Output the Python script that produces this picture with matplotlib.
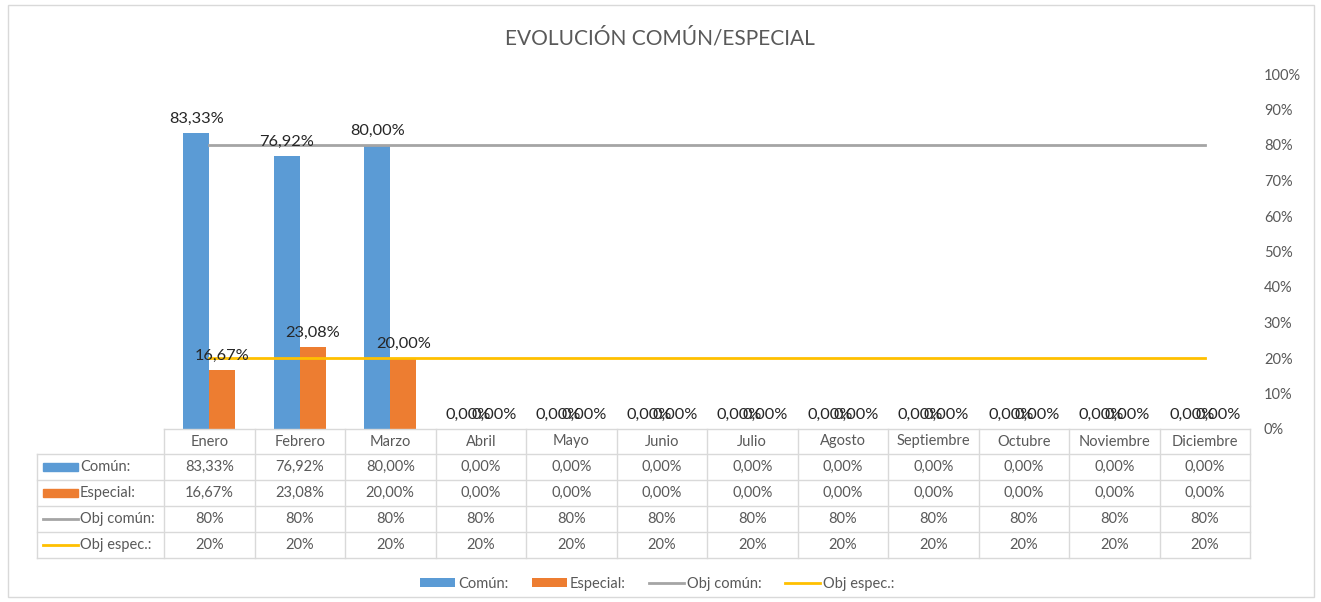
import matplotlib
matplotlib.use("Agg")
import matplotlib.pyplot as plt
import matplotlib.transforms as mtransforms
from matplotlib.patches import Rectangle
from matplotlib.lines import Line2D
import numpy as np

plt.rcParams["font.family"] = ["Lato", "DejaVu Sans"]

# --- data -------------------------------------------------------------
meses = ["Enero", "Febrero", "Marzo", "Abril", "Mayo", "Junio", "Julio",
         "Agosto", "Septiembre", "Octubre", "Noviembre", "Diciembre"]
comun = [0.8333, 0.7692, 0.80, 0, 0, 0, 0, 0, 0, 0, 0, 0]
especial = [0.1667, 0.2308, 0.20, 0, 0, 0, 0, 0, 0, 0, 0, 0]
obj_comun = [0.80] * 12
obj_espec = [0.20] * 12
yticks = [0, 0.1, 0.2, 0.3, 0.4, 0.5, 0.6, 0.7, 0.8, 0.9, 1.0]

BLUE = "#5B9BD5"
ORANGE = "#ED7D31"
GRAY = "#A5A5A5"
YELLOW = "#FFC000"
TXT = "#595959"
GRID = "#D9D9D9"

W, H = 1321, 602
fig = plt.figure(figsize=(W / 100, H / 100), dpi=100)
fig.patch.set_facecolor("white")

# outer frame
fig.add_artist(Rectangle((8 / W, 5 / H), (1314 - 8) / W, (597 - 5) / H,
                         transform=fig.transFigure, fill=False,
                         edgecolor=GRID, lw=1))

ax_l, ax_r, ax_b, ax_t = 164, 1250, 429, 74
ax = fig.add_axes([ax_l / W, 1 - ax_b / H, (ax_r - ax_l) / W, (ax_b - ax_t) / H])
ax_h = ax_b - ax_t

x = np.arange(len(meses))
bw = 0.287
b1 = ax.bar(x - bw / 2, comun, bw, color=BLUE, label="Común:")
b2 = ax.bar(x + bw / 2, especial, bw, color=ORANGE, label="Especial:")
l1, = ax.plot(x, obj_comun, color=GRAY, lw=2, label="Obj común:")
l2, = ax.plot(x, obj_espec, color=YELLOW, lw=2, label="Obj espec.:")

def pct(v):
    return f"{v * 100:.2f}%".replace(".", ",")

for bars, vals in ((b1, comun), (b2, especial)):
    for bar, v in zip(bars, vals):
        ax.annotate(pct(v), (bar.get_x() + bar.get_width() / 2, v),
                    xytext=(0, 5), textcoords="offset points",
                    ha="center", va="bottom", fontsize=11.8, color="#262626")

ax.set_xlim(-0.5, len(meses) - 0.5)
ax.set_ylim(0, 1)
ax.set_yticks(yticks)
ax.set_yticklabels([f"{int(round(t * 100))}%" for t in yticks])
ax.yaxis.tick_right()
ax.tick_params(axis="y", length=0, pad=10, labelsize=10.5, labelcolor=TXT)
ax.set_xticks([])
for s in ax.spines.values():
    s.set_visible(False)

fig.text(660 / W, 1 - 38 / H, "EVOLUCIÓN COMÚN/ESPECIAL", ha="center",
         va="center", fontsize=15, color=TXT)

# --- data table under the axes ---------------------------------------
tr = mtransforms.blended_transform_factory(ax.transData, ax.transAxes)
fig_tr = fig.transFigure

def ya(ypx):
    return (ax_b - ypx) / ax_h

row_edges = [429, 454, 480, 506, 532, 558]
x0, x1 = -0.5, len(meses) - 0.5
# horizontal lines
ax.add_line(Line2D([x0, x1], [ya(row_edges[0])] * 2, transform=tr,
                   color=GRID, lw=1, clip_on=False))
for ypx in row_edges[1:]:
    ax.add_line(Line2D([37 / W, ax_r / W], [1 - ypx / H] * 2, transform=fig_tr,
                       color=GRID, lw=1, clip_on=False))
# vertical lines in the data columns
for i in range(len(meses) + 1):
    ax.add_line(Line2D([i - 0.5, i - 0.5], [ya(row_edges[0]), ya(row_edges[-1])],
                       transform=tr, color=GRID, lw=1, clip_on=False))
ax.add_line(Line2D([37 / W, 37 / W], [1 - row_edges[1] / H, 1 - row_edges[-1] / H],
                   transform=fig_tr, color=GRID, lw=1, clip_on=False))

def ymid(r):
    return ya((row_edges[r] + row_edges[r + 1]) / 2)

for i, m in enumerate(meses):
    ax.text(i, ymid(0), m, transform=tr, ha="center", va="center",
            fontsize=10.5, color=TXT, clip_on=False)

rows = [
    ("Común:", [pct(v) for v in comun], "bar", BLUE),
    ("Especial:", [pct(v) for v in especial], "bar", ORANGE),
    ("Obj común:", [f"{round(v * 100)}%" for v in obj_comun], "line", GRAY),
    ("Obj espec.:", [f"{round(v * 100)}%" for v in obj_espec], "line", YELLOW),
]
for r, (name, vals, kind, col) in enumerate(rows, start=1):
    yc_px = (row_edges[r] + row_edges[r + 1]) / 2
    yc = 1 - yc_px / H
    if kind == "bar":
        fig.add_artist(Rectangle((43 / W, yc - 4 / H), 35 / W, 8 / H,
                                 transform=fig_tr, color=col))
    else:
        fig.add_artist(Line2D([43 / W, 78 / W], [yc, yc], transform=fig_tr,
                              color=col, lw=2))
    fig.text(80 / W, yc, name, ha="left", va="center", fontsize=10.5, color=TXT)
    for i, v in enumerate(vals):
        ax.text(i, ymid(r), v, transform=tr, ha="center", va="center",
                fontsize=10.5, color=TXT, clip_on=False)

# --- legend ------------------------------------------------------------
fig.legend([b1, b2, l1, l2], ["Común:", "Especial:", "Obj común:", "Obj espec.:"],
           loc="center", bbox_to_anchor=(657 / W, 1 - 584 / H), ncol=4,
           frameon=False, fontsize=10.5, labelcolor=TXT, handlelength=2.4,
           handleheight=0.6, handletextpad=0.2, columnspacing=1.6)

fig.savefig("out.png", dpi=100)
